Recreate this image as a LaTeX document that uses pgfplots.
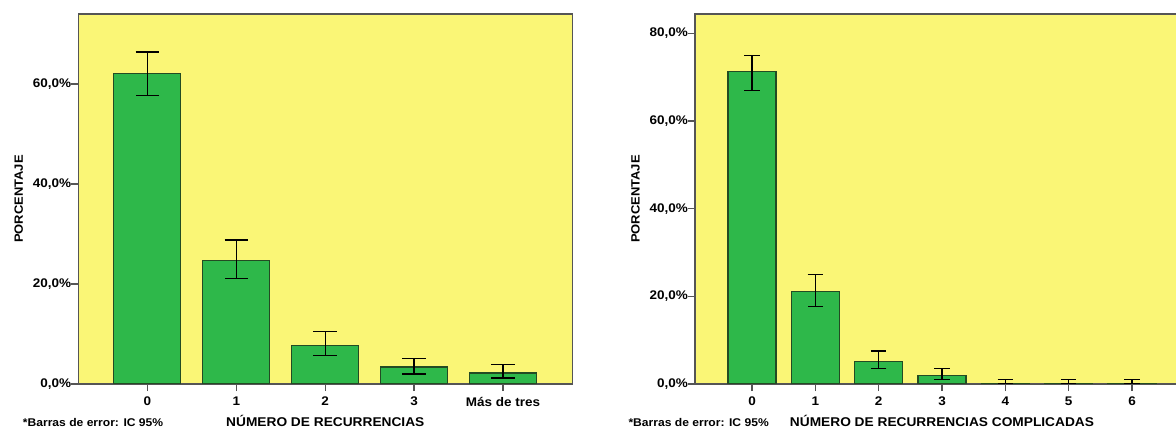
\documentclass[border=0pt]{standalone}
\usepackage{fontspec}
\setmainfont{Liberation Sans}[FakeStretch=1.08]
\usepackage{pgfplots}
\pgfplotsset{compat=1.18}
\usepackage{pgfplotstable}
\usetikzlibrary{calc}
\definecolor{bgyellow}{RGB}{250,246,118}
\definecolor{bargreen}{RGB}{46,184,74}
\definecolor{bardraw}{RGB}{35,75,35}
\definecolor{axgray}{RGB}{85,85,85}

\pgfplotstableread{
x y ep em
0 62.1 4.3 4.4
1 24.7 4.1 3.6
2 7.7 2.8 2.0
3 3.4 1.7 1.4
4 2.2 1.7 1.0
}\leftdata

\pgfplotstableread{
x y ep em
0 71.2 3.8 4.2
1 21.1 3.8 3.5
2 5.2 2.3 1.7
3 1.9 1.6 0.9
4 0.2 0.8 0.2
5 0.2 0.8 0.2
6 0.2 0.8 0.2
}\rightdata

\pgfplotsset{spss/.style={
  scale only axis, width=494bp, height=370bp,
  ymin=0, ybar,
  axis background/.style={fill=bgyellow},
  axis line style={draw=axgray, line width=1.2bp},
  tick align=outside, xtick pos=bottom, ytick pos=left,
  major tick length=7bp,
  tick style={draw=axgray, line width=1.2bp},
  xtick=data,
  ticklabel style={font=\fontsize{12.5bp}{14bp}\selectfont\bfseries, text=black},
  xticklabel style={anchor=north, inner sep=0pt, yshift=-6bp},
  yticklabel style={anchor=east, inner sep=0pt},
  xlabel style={at={(axis description cs:0.5,0)}, anchor=base, yshift=-42.4bp,
    font=\fontsize{12.7bp}{14bp}\selectfont\bfseries},
  ylabel style={at={($(axis description cs:0,0.5)+(-59.6bp,0)$)}, anchor=center,
    font=\fontsize{12bp}{14bp}\selectfont\bfseries},
}}

\begin{document}
\begin{tikzpicture}
\useasboundingbox (0,0) rectangle (1176bp,431bp);
\begin{axis}[spss, name=L, at={(78.3bp,47bp)}, anchor=south west,
  xmin=-0.777, xmax=4.78, ymax=74,
  bar width=67bp,
  xticklabels={0,1,2,3,Más de tres},
  ytick={0,20,40,60},
  yticklabels={{0,0\%},{20,0\%},{40,0\%},{60,0\%}},
  xlabel={NÚMERO DE RECURRENCIAS},
  ylabel={PORCENTAJE}]
\addplot[fill=bargreen, draw=bardraw, line width=1.2bp,
  error bars/.cd, y dir=both, y explicit,
  error bar style={line width=1.3bp, black},
  error mark=|,
  error mark options={mark size=11.7bp, line width=1.3bp, black}]
  table[x=x, y=y, y error plus=ep, y error minus=em] {\leftdata};
\end{axis}
\node[anchor=base west, inner sep=0pt, font=\fontsize{11.2bp}{13bp}\selectfont\bfseries]
  at ($(L.south west)+(-55.6bp,-42.4bp)$) {*Barras de error: IC 95\%};

\begin{axis}[spss, name=R, at={(695bp,47bp)}, anchor=south west,
  xmin=-0.9, xmax=6.9, ymax=84.4,
  bar width=48bp,
  xticklabels={0,1,2,3,4,5,6},
  ytick={0,20,40,60,80},
  yticklabels={{0,0\%},{20,0\%},{40,0\%},{60,0\%},{80,0\%}},
  xlabel={NÚMERO DE RECURRENCIAS COMPLICADAS},
  ylabel={PORCENTAJE}]
\addplot[fill=bargreen, draw=bardraw, line width=1.2bp,
  error bars/.cd, y dir=both, y explicit,
  error bar style={line width=1.3bp, black},
  error mark=|,
  error mark options={mark size=7.8bp, line width=1.3bp, black}]
  table[x=x, y=y, y error plus=ep, y error minus=em] {\rightdata};
\end{axis}
\node[anchor=base west, inner sep=0pt, font=\fontsize{11.2bp}{13bp}\selectfont\bfseries]
  at ($(R.south west)+(-66.7bp,-42.4bp)$) {*Barras de error: IC 95\%};
\end{tikzpicture}
\end{document}
